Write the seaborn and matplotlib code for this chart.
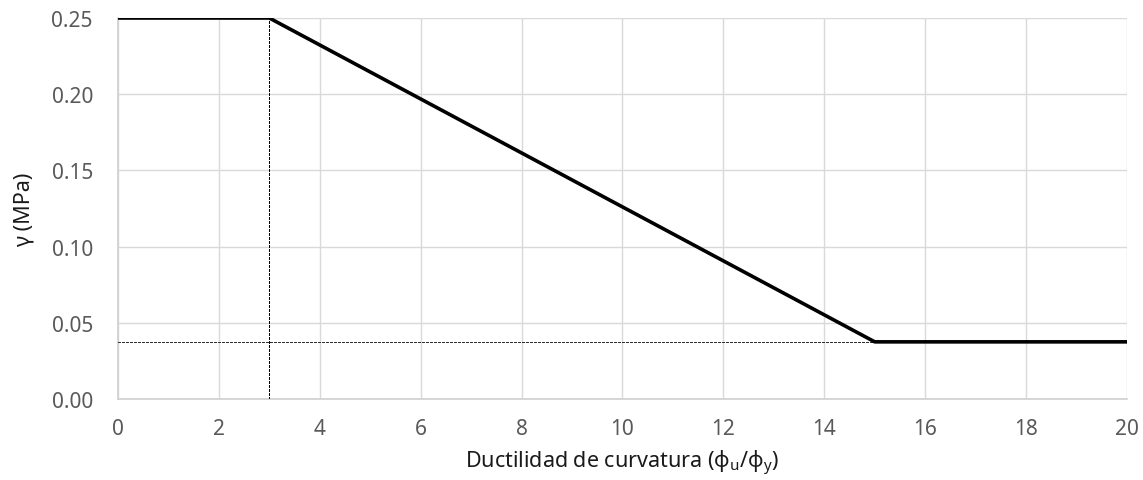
import matplotlib
matplotlib.use("Agg")
import matplotlib.pyplot as plt
import seaborn as sns
import pandas as pd

# Data
ductility = [0, 3, 15, 20]
gamma = [0.25, 0.25, 0.0375, 0.0375]
guide_v_x = [3, 3]
guide_v_y = [0.0, 0.25]
guide_h_x = [0, 15]
guide_h_y = [0.0375, 0.0375]
xticks = [0, 2, 4, 6, 8, 10, 12, 14, 16, 18, 20]
yticks = [0.00, 0.05, 0.10, 0.15, 0.20, 0.25]
xlabel = r"Ductilidad de curvatura (ϕ$_\mathregular{u}$/ϕ$_\mathregular{y}$)"
ylabel = "γ (MPa)"

sns.set_theme(style="white")
plt.rcParams['font.family'] = ['Noto Sans', 'DejaVu Sans']
plt.rcParams['mathtext.fontset'] = 'custom'
plt.rcParams['mathtext.rm'] = 'Noto Sans'
plt.rcParams['mathtext.it'] = 'Noto Sans:italic'
plt.rcParams['mathtext.bf'] = 'Noto Sans:bold'

fig = plt.figure(figsize=(11.43, 4.81), dpi=100)
ax = fig.add_axes([0.1032, 0.1684, 0.8828, 0.7921])

df = pd.DataFrame({"x": ductility, "y": gamma})
sns.lineplot(data=df, x="x", y="y", sort=False, estimator=None, color="black",
             linewidth=2.6, ax=ax, zorder=4, solid_capstyle="butt")
sns.lineplot(x=guide_v_x, y=guide_v_y, sort=False, estimator=None, color="black",
             linewidth=1.0, linestyle=(0, (1.5, 0.75)), ax=ax, zorder=3,
             antialiased=False)
sns.lineplot(x=guide_h_x, y=guide_h_y, sort=False, estimator=None, color="#303030",
             linewidth=1.0, linestyle=(0, (1.5, 0.75)), ax=ax, zorder=3,
             antialiased=False)

ax.set_xlim(0, 20)
ax.set_ylim(0, 0.25)
ax.set_xticks(xticks)
ax.set_yticks(yticks)
ax.set_yticklabels([f"{v:.2f}" for v in yticks])
ax.grid(True, color="#d9d9d9", linewidth=1.0)
ax.set_axisbelow(True)
for s in ["top", "right"]:
    ax.spines[s].set_visible(False)
for s in ["left", "bottom"]:
    ax.spines[s].set_color("#d0d0d0")
    ax.spines[s].set_linewidth(1.2)
ax.tick_params(axis="both", length=0, labelsize=15, labelcolor="#595959")
ax.tick_params(axis="y", pad=18)
ax.tick_params(axis="x", pad=14)
ax.set_xlabel(xlabel, fontsize=15.5, color="#1a1a1a", labelpad=6)
ax.set_ylabel(ylabel, fontsize=15.5, color="#1a1a1a", labelpad=12)

fig.savefig("out.png", dpi=100)
